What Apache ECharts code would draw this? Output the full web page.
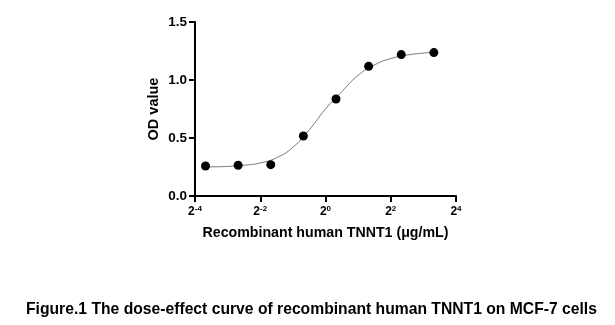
<!DOCTYPE html>
<html>
<head>
<meta charset="utf-8">
<script src="https://cdn.jsdelivr.net/npm/echarts@6/dist/echarts.min.js"></script>
<style>html,body{margin:0;padding:0;background:#fff}#c{width:615px;height:325px}</style>
</head>
<body>
<div id="c"></div>
<script>
// Measured points: concentration (µg/mL) and OD value
var concentrations = [0.078125, 0.15625, 0.3125, 0.625, 1.25, 2.5, 5, 10];
var odValues = [0.259, 0.265, 0.270, 0.517, 0.836, 1.118, 1.219, 1.236];
// Fitted curve
var curveX = [0.0718, 0.0884, 0.125, 0.177, 0.25, 0.354, 0.5, 0.707, 1, 1.414, 2, 2.83, 4, 5.66, 8, 10.2];
var curveY = [0.250, 0.251, 0.255, 0.265, 0.285, 0.330, 0.420, 0.570, 0.750, 0.900, 1.040, 1.130, 1.185, 1.215, 1.232, 1.240];
var yTicks = ['0.0', '0.5', '1.0', '1.5'];

var font = 'Liberation Sans, Arial, sans-serif';
var chart = echarts.init(document.getElementById('c'), null, {renderer: 'canvas'});
chart.setOption({
  animation: false,
  backgroundColor: '#fff',
  title: {
    text: 'Figure.1 The dose-effect curve of recombinant human TNNT1 on MCF-7 cells',
    left: 21, top: 297,
    textStyle: {fontFamily: font, fontSize: 15.7, fontWeight: 'bold', color: '#000'}
  },
  grid: {left: 195, right: 159, top: 22, bottom: 129, containLabel: false},
  xAxis: {
    type: 'log', logBase: 2, min: 0.0625, max: 16, interval: 2,
    name: 'Recombinant human TNNT1 (μg/mL)', nameLocation: 'middle', nameGap: 30,
    nameTextStyle: {fontFamily: font, fontSize: 14.2, fontWeight: 'bold', color: '#000'},
    axisLine: {lineStyle: {color: '#000', width: 2}},
    axisTick: {length: 6, lineStyle: {color: '#000', width: 2}},
    minorTick: {show: false},
    splitLine: {show: false},
    axisLabel: {
      margin: 9,
      formatter: function (v) {
        var e = Math.round(Math.log(v) / Math.log(2));
        return '{b|2}{s|' + e + '}';
      },
      rich: {
        b: {fontFamily: font, fontSize: 12, fontWeight: 'bold', color: '#000', lineHeight: 13},
        s: {fontFamily: font, fontSize: 8, fontWeight: 'bold', color: '#000', verticalAlign: 'top', lineHeight: 13}
      }
    }
  },
  yAxis: {
    type: 'value', min: 0, max: 1.5, interval: 0.5,
    name: 'OD value', nameLocation: 'middle', nameGap: 34,
    nameTextStyle: {fontFamily: font, fontSize: 14.5, fontWeight: 'bold', color: '#000'},
    axisLine: {show: true, lineStyle: {color: '#000', width: 2}},
    axisTick: {show: true, length: 6, lineStyle: {color: '#000', width: 2}},
    splitLine: {show: false},
    axisLabel: {
      margin: 8, fontFamily: font, fontSize: 13.5, fontWeight: 'bold', color: '#000',
      formatter: function (v) { return yTicks[Math.round(v / 0.5)]; }
    }
  },
  series: [
    {
      type: 'line', smooth: true, symbol: 'none',
      data: curveX.map(function (x, i) { return [x, curveY[i]]; }),
      lineStyle: {color: '#777', width: 1}, z: 2
    },
    {
      type: 'scatter', symbol: 'circle', symbolSize: 9,
      data: concentrations.map(function (x, i) { return [x, odValues[i]]; }),
      itemStyle: {color: '#000', opacity: 1}, z: 3
    }
  ]
});
</script>
</body>
</html>
